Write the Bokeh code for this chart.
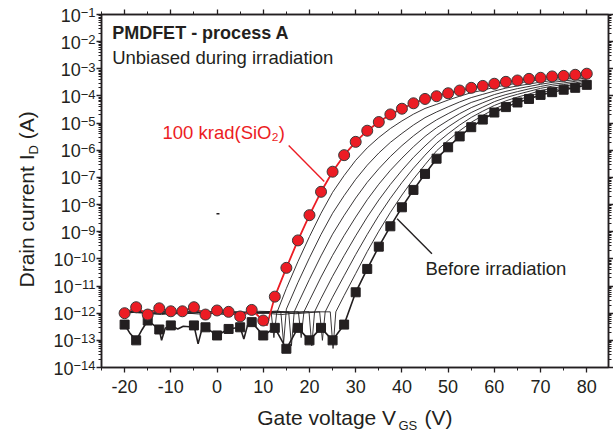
import math
from bokeh.plotting import figure
from bokeh.models import (FixedTicker, CustomJSTickFormatter, LinearAxis, LogAxis,
                          Label, Range1d, GridBox)
from bokeh.layouts import column
from bokeh.embed import file_html
from bokeh.resources import INLINE

# ---------------- data (log10 of drain current, A) ----------------
VGS = [-20, -17.5, -15, -12.5, -10, -7.5, -5, -2.5, 0, 2.5, 5, 7.5, 10, 12.5, 15,
       17.5, 20, 22.5, 25, 27.5, 30, 32.5, 35, 37.5, 40, 42.5, 45, 47.5, 50, 52.5,
       55, 57.5, 60, 62.5, 65, 67.5, 70, 72.5, 75, 77.5, 80]

# 100 krad(SiO2) - red circles
red_log = [-12.00, -11.78, -12.05, -11.82, -11.93, -11.93, -11.78, -12.05, -11.90, -11.95,
           -12.12, -11.88, -12.27, -11.39, -10.33, -9.32, -8.39, -7.53, -6.79, -6.18,
           -5.69, -5.28, -4.96, -4.68, -4.47, -4.27, -4.11, -4.01, -3.90, -3.80,
           -3.70, -3.63, -3.55, -3.48, -3.43, -3.37, -3.33, -3.28, -3.26, -3.22, -3.18]
red_dip_x = [10.8]
red_dip_log = [-12.45]

# Before irradiation - black squares
blk_x = [-20, -17.5, -15, -12.5, -10, -5, -2.5, 0, 2.5, 5, 7.5, 10, 12.5, 15,
         17.5, 20, 22.5, 25, 27.5, 30, 32.5, 35, 37.5, 40, 42.5, 45, 47.5, 50, 52.5,
         55, 57.5, 60, 62.5, 65, 67.5, 70, 72.5, 75, 77.5, 80]
blk_log = [-12.42, -13.00, -12.27, -12.60, -12.45, -12.45, -12.52, -12.82, -12.58, -12.52,
           -12.33, -12.82, -12.54, -13.31, -12.54, -13.00, -12.54, -13.00, -12.42, -11.23,
           -10.37, -9.55, -8.80, -8.10, -7.46, -6.87, -6.31, -5.89, -5.49, -5.15,
           -4.87, -4.61, -4.41, -4.24, -4.11, -3.96, -3.86, -3.77, -3.70, -3.59]
# measured trace of the unirradiated device in the leakage region (denser than markers)
blk_leak_x = [-20, -18.8, -17.5, -16.2, -15, -13.6, -12.5, -12.0, -11.2, -10, -8.5, -7.3,
              -6, -5, -4.1, -3.3, -2.5, 0, 2.5, 5, 5.8, 6.6, 7.5, 10, 12.5, 15, 17.5,
              20, 22.5, 25, 27.5]
blk_leak_log = [-12.42, -12.75, -13.00, -12.60, -12.27, -12.45, -12.60, -13.00, -12.55,
                -12.45, -12.58, -12.48, -12.50, -12.45, -13.13, -12.60, -12.52, -12.82,
                -12.58, -12.52, -12.95, -12.45, -12.33, -12.82, -12.54, -13.31, -12.54,
                -13.00, -12.54, -13.00, -12.42]

# intermediate doses - thin lines (leakage part, then on-state part on the VGS grid)
thin1_x = [-20, -12, -5, 3, 8, 11.7, 12.3, 12.9]
thin1_log = [-11.95, -12.05, -11.90, -12.02, -11.97, -11.95, -12.90, -12.00,
             -11.09, -10.10, -9.18, -8.32, -7.55, -6.93, -6.37, -5.91, -5.53, -5.20,
             -4.92, -4.67, -4.46, -4.31, -4.15, -4.01, -3.88, -3.79, -3.68, -3.60,
             -3.53, -3.46, -3.41, -3.35, -3.32, -3.28, -3.23]
thin1_from = 15
thin2_x = [-20, -13, -6, 2, 9, 13.8, 14.4, 15]
thin2_log = [-11.92, -12.02, -11.95, -12.05, -11.93, -11.95, -13.10, -11.85,
             -10.87, -9.96, -9.10, -8.32, -7.67, -7.07, -6.55, -6.10, -5.71, -5.38,
             -5.07, -4.80, -4.59, -4.40, -4.22, -4.06, -3.94, -3.82, -3.71, -3.63,
             -3.56, -3.49, -3.43, -3.39, -3.34, -3.28]
thin2_from = 17.5
thin3_x = [-20, -14, -4, 4, 10, 15.5, 16.1, 16.7, 17.5]
thin3_log = [-11.97, -11.90, -12.03, -11.95, -12.00, -11.95, -13.20, -11.95, -11.65,
             -10.75, -9.89, -9.09, -8.40, -7.76, -7.18, -6.68, -6.23, -5.83, -5.47,
             -5.15, -4.88, -4.65, -4.43, -4.24, -4.10, -3.95, -3.83, -3.73, -3.65,
             -3.57, -3.50, -3.45, -3.40, -3.33]
thin3_from = 20
thin4_x = [-20, -11, -3, 5, 12, 17.6, 18.2, 18.8, 20]
thin4_log = [-11.93, -12.00, -11.92, -12.04, -11.97, -11.95, -12.90, -11.95, -11.53,
             -10.67, -9.87, -9.14, -8.46, -7.82, -7.25, -6.74, -6.29, -5.87, -5.49,
             -5.17, -4.90, -4.65, -4.43, -4.25, -4.08, -3.95, -3.84, -3.74, -3.65,
             -3.57, -3.52, -3.46, -3.39]
thin4_from = 22.5
thin5_x = [-20, -15, -7, 1, 8, 14, 19.9, 20.5, 21.1, 22.5]
thin5_log = [-12.00, -11.93, -12.02, -11.92, -12.00, -11.95, -11.95, -13.20, -11.95, -11.46,
             -10.64, -9.88, -9.15, -8.46, -7.83, -7.26, -6.74, -6.26, -5.84, -5.45,
             -5.14, -4.86, -4.61, -4.41, -4.21, -4.06, -3.94, -3.83, -3.72, -3.64,
             -3.58, -3.52, -3.44]
thin5_from = 25
thin6_x = [-20, -10, -2, 6, 13, 17, 22.2, 22.8, 23.4, 25]
thin6_log = [-11.94, -12.03, -11.95, -12.00, -11.92, -12.02, -11.95, -13.00, -11.95, -11.41,
             -10.62, -9.84, -9.10, -8.40, -7.77, -7.19, -6.66, -6.18, -5.74, -5.39,
             -5.07, -4.79, -4.56, -4.35, -4.18, -4.04, -3.93, -3.80, -3.72, -3.64,
             -3.58, -3.49]
thin6_from = 27.5
thin7_x = [-20, -12, -1, 7, 14, 19, 24.5, 25.1, 25.7, 27.5]
thin7_log = [-11.96, -11.92, -12.00, -11.95, -12.05, -11.95, -11.95, -13.30, -11.95, -11.35,
             -10.54, -9.73, -8.98, -8.29, -7.65, -7.06, -6.53, -6.02, -5.64, -5.28,
             -4.97, -4.72, -4.48, -4.29, -4.14, -4.02, -3.88, -3.79, -3.71, -3.64, -3.54]
thin7_from = 30

stray_x = [0.2]
stray_log = [-8.34]

X_TICKS = [-20, -10, 0, 10, 20, 30, 40, 50, 60, 70, 80]
Y_DECADES = list(range(-14, 0))

# ---------------- helpers ----------------
def cur(logs):
    return [10.0 ** v for v in logs]

RED = "#EC1C24"
INK = "#231F20"
FONT = "Liberation Sans"
W, H = 613, 432
BL, BR, BT, BB = 101, 5, 14, 65          # frame borders (px)
Y0, Y1 = -14, -1                          # log10 range of the y axis
PX_DEC = (H - BT - BB) / (Y1 - Y0)        # pixels per decade
KB = 0.36                                 # baseline correction (fraction of font size)

fig = figure(width=W, height=H, output_backend="svg", toolbar_location=None,
             x_range=Range1d(-25, 84.7), y_range=Range1d(10.0 ** Y0, 10.0 ** Y1),
             y_axis_type="log",
             min_border_left=BL, min_border_right=BR, min_border_top=BT, min_border_bottom=BB)
fig.grid.visible = False
fig.outline_line_color = INK
fig.outline_line_width = 1.5
fig.background_fill_color = "white"
fig.border_fill_color = "white"

xticker = FixedTicker(ticks=X_TICKS, minor_ticks=[t + 5 for t in [-30] + X_TICKS])
yticker = FixedTicker(ticks=[10.0 ** d for d in Y_DECADES],
                      minor_ticks=[m * 10.0 ** d for d in Y_DECADES[:-1] for m in range(2, 10)])
blank = CustomJSTickFormatter(code="return '';")
xfmt = CustomJSTickFormatter(code="return String(tick);")

def style_axis(ax):
    ax.axis_line_color = INK
    ax.axis_line_width = 1.5
    ax.major_tick_line_color = INK
    ax.minor_tick_line_color = INK
    ax.major_tick_line_width = 1.3
    ax.minor_tick_line_width = 1
    ax.major_tick_out = 5
    ax.major_tick_in = 0
    ax.minor_tick_out = 3
    ax.minor_tick_in = 0
    ax.major_label_text_font = FONT
    ax.major_label_text_font_size = "18px"
    ax.major_label_text_color = INK
    ax.major_label_standoff = 0

fig.xaxis.ticker = xticker
fig.xaxis.formatter = xfmt
fig.yaxis.ticker = yticker
fig.yaxis.formatter = blank
style_axis(fig.xaxis[0])
style_axis(fig.yaxis[0])
fig.xaxis.major_label_standoff = 7

top = LinearAxis(ticker=xticker, formatter=blank)
style_axis(top)
fig.add_layout(top, "above")
right = LogAxis(ticker=yticker, formatter=blank)
style_axis(right)
fig.add_layout(right, "right")

# thin intermediate-dose curves
for tx, tl, start in [(thin1_x, thin1_log, thin1_from), (thin2_x, thin2_log, thin2_from),
                      (thin3_x, thin3_log, thin3_from), (thin4_x, thin4_log, thin4_from),
                      (thin5_x, thin5_log, thin5_from), (thin6_x, thin6_log, thin6_from),
                      (thin7_x, thin7_log, thin7_from)]:
    xs = tx + VGS[VGS.index(start):]
    assert len(xs) == len(tl), (len(xs), len(tl))
    fig.line(xs, cur(tl), line_color=INK, line_width=0.9)

# before irradiation
bx = blk_leak_x + [x for x in blk_x if x >= 30]
bl = blk_leak_log + [l for x, l in zip(blk_x, blk_log) if x >= 30]
fig.line(bx, cur(bl), line_color=INK, line_width=1.6)
fig.scatter(blk_x, cur(blk_log), marker="square", size=9, fill_color=INK, line_color=INK)

# 100 krad
i = VGS.index(10) + 1
rx = VGS[:i] + red_dip_x + VGS[i:]
rl = red_log[:i] + red_dip_log + red_log[i:]
fig.line(rx, cur(rl), line_color=RED, line_width=1.8)
fig.scatter(VGS, cur(red_log), marker="circle", size=11, fill_color=RED,
            line_color="#3a3a3a", line_width=1)

fig.scatter(stray_x, cur(stray_log), marker="dash", size=3, line_color=INK, line_width=1.5)

# annotations
fig.segment(x0=[15.5], y0=[10 ** -5.825], x1=[23.2], y1=[10 ** -7.15], line_color=RED, line_width=1.4)
fig.segment(x0=[38.96], y0=[10 ** -8.525], x1=[46.5], y1=[10 ** -9.81], line_color=INK, line_width=1.4)

def lab(x, y, text, size=18.5, color=INK, style="normal", angle=0.0, align="left",
        target=None):
    """x, y: baseline anchor. For fig: data units (y as log10); for overlay: canvas px."""
    shift = KB * size
    if target is None:
        target, y = fig, 10.0 ** (y + shift / PX_DEC)
    elif angle:
        x = x - shift
    else:
        y = y - shift
    target.add_layout(Label(x=x, y=y, text=text, text_font=FONT, text_font_size=f"{size}px",
                            text_color=color, text_font_style=style, angle=angle,
                            text_baseline="alphabetic", text_align=align))

lab(-22.7, -1.93, "PMDFET - process A", size=18, style="bold")
lab(-22.7, -2.816, "Unbiased during irradiation")
lab(-11.8, -5.58, "100 krad(SiO\u2082)", color=RED)
lab(45.1, -10.61, "Before irradiation")

# ---- transparent overlay in canvas pixels (y downwards) for texts outside the frame ----
ov = figure(width=W, height=H, output_backend="svg", toolbar_location=None,
            x_range=Range1d(0, W), y_range=Range1d(H, 0),
            x_axis_location=None, y_axis_location=None, min_border=0)
ov.grid.visible = False
ov.outline_line_color = None
ov.background_fill_alpha = 0
ov.border_fill_alpha = 0

# y tick labels: "10" with a raised exponent
for d in Y_DECADES:
    yc = BT + (Y1 - d) * PX_DEC
    exp = "\u2212" + str(-d)
    w = 13 * (0.584 + 0.556 * len(str(-d)))
    lab(BL - 6, yc + 3, exp, size=13, align="right", target=ov)
    lab(BL - 6 - w, yc + 7, "10", size=18, align="right", target=ov)

# axis titles
lab(256.7, 425, "Gate voltage V", size=21, target=ov)
lab(398, 430, "GS", size=13, target=ov)
lab(424, 425, "(V)", size=21, target=ov)

lab(33.3, 287, "Drain current I", size=21, angle=math.pi / 2, target=ov)
lab(37.5, 154, "D", size=13, angle=math.pi / 2, target=ov)
lab(33.3, 138.8, "(A)", size=21, angle=math.pi / 2, target=ov)

try:
    fig.frame_align = False
    ov.frame_align = False
    p = GridBox(children=[(fig, 0, 0), (ov, 0, 0)], width=W, height=H)
except AttributeError:
    p = GridBox(children=[(fig, 0, 0), (column(ov), 0, 0)], width=W, height=H)

open("out.html", "w").write(file_html(p, INLINE))
